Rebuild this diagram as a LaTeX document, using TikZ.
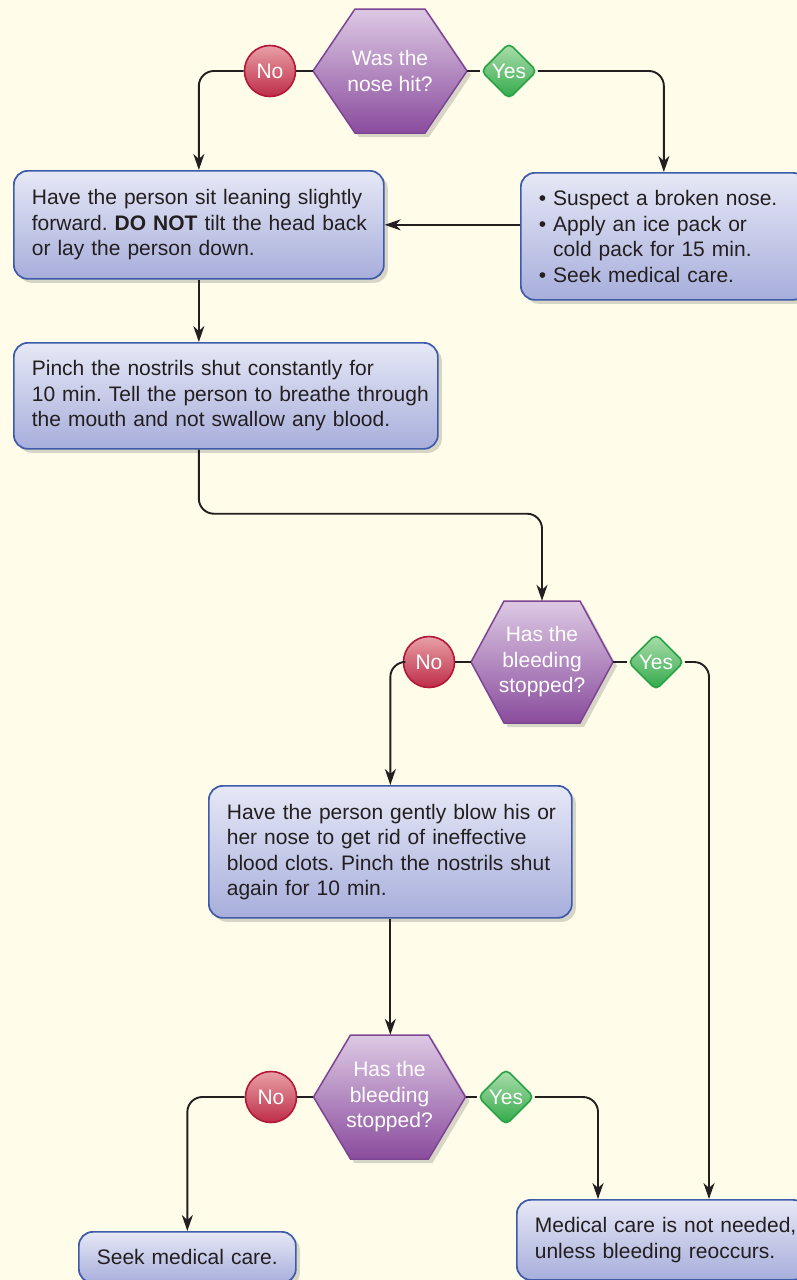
\documentclass[tikz,border=0pt]{standalone}
\usepackage{fontspec}
\setmainfont{Liberation Sans}
\usetikzlibrary{shapes.geometric,arrows.meta,shadows,calc}
\definecolor{bg}{HTML}{FFFCE9}
\definecolor{ink}{HTML}{231F20}
\definecolor{boxT}{HTML}{E6E8F6}
\definecolor{boxB}{HTML}{A7AEDB}
\definecolor{boxD}{HTML}{3D5BA9}
\definecolor{hexT}{HTML}{DDC9E4}
\definecolor{hexB}{HTML}{8A4C9D}
\definecolor{hexD}{HTML}{7E4494}
\definecolor{noT}{HTML}{E8A0A6}
\definecolor{noB}{HTML}{BE2C48}
\definecolor{noD}{HTML}{B3173A}
\definecolor{yesT}{HTML}{AEDFAE}
\definecolor{yesB}{HTML}{30A848}
\definecolor{yesD}{HTML}{26A444}
\frenchspacing
\newcommand\hexagon[5]{%
  \shade[hexfill] ({#1-#3},#2) -- ({#1-#5},{#2-#4}) -- ({#1+#5},{#2-#4})
    -- ({#1+#3},#2) -- ({#1+#5},{#2+#4}) -- ({#1-#5},{#2+#4}) -- cycle;}
\begin{document}
\begin{tikzpicture}[x=1pt,y=-1pt,
  txt/.style={font=\fontsize{21}{25.5}\selectfont\frenchspacing},
  shad/.style={drop shadow={shadow xshift=4pt,shadow yshift=-4pt,opacity=0.22,fill=black!70}},
  box/.style={txt,text=ink,rounded corners=14pt,draw=boxD,line width=1.7pt,
    top color=boxT,bottom color=boxB,shad,align=left,anchor=north west,
    inner xsep=18pt,inner ysep=0pt},
  hexfill/.style={top color=hexT,bottom color=hexB,draw=hexD,line width=1.5pt,shad},
  hextext/.style={txt,text=white,align=center,inner sep=0pt},
  nonode/.style={circle,txt,text=white,minimum size=51pt,inner sep=0pt,
    top color=noT,bottom color=noB,draw=noD,line width=1.6pt},
  yesnode/.style={diamond,aspect=1,rounded corners=5pt,txt,text=white,minimum size=56pt,
    inner sep=0pt,top color=yesT,bottom color=yesB,draw=yesD,line width=1.6pt},
  conn/.style={draw=ink,line width=1.9pt,rounded corners=15pt},
  arr/.style={conn,-{Stealth[length=16pt,width=11pt,inset=5pt]}}]
\useasboundingbox (0,0) rectangle (797,1280);
\clip (0,0) rectangle (797,1280);
\fill[bg] (0,0) rectangle (797,1280);

% row 1
\hexagon{390}{71}{77}{62}{35}
\node[hextext,minimum width=154pt,minimum height=124pt] (q1) at (390,71) {Was the\\nose hit?};
\node[nonode] (no1) at (270,71) {No};
\node[yesnode] (yes1) at (509,71) {Yes};

% boxes
\node[box,text width=334pt,minimum height=108pt] (box1) at (13,170)
  {\mbox{Have the person sit leaning slightly}\\\mbox{forward. \textbf{DO NOT} tilt the head back}\\\mbox{or lay the person down.}};
\node[box,text width=250pt,minimum height=127pt] (box2) at (520,172)
  {\mbox{• Suspect a broken nose.}\\\mbox{• Apply an ice pack or}\\\mbox{\phantom{• }cold pack for 15 min.}\\\mbox{• Seek medical care.}};
\node[box,text width=388pt,minimum height=106pt] (box3) at (13,342)
  {\mbox{Pinch the nostrils shut constantly for}\\\mbox{10 min. Tell the person to breathe through}\\\mbox{the mouth and not swallow any blood.}};

% row 2
\hexagon{542}{662}{71}{61}{38}
\node[hextext,minimum width=142pt,minimum height=122pt] (q2) at (542,662) {Has the\\bleeding\\stopped?};
\node[nonode] (no2) at (429,662) {No};
\node[yesnode] (yes2) at (656,662) {Yes};

\node[box,text width=327pt,minimum height=132pt] (box4) at (208,785)
  {\mbox{Have the person gently blow his or}\\\mbox{her nose to get rid of ineffective}\\\mbox{blood clots. Pinch the nostrils shut}\\\mbox{again for 10 min.}};

% row 3
\hexagon{389.5}{1097}{76}{62}{39}
\node[hextext,minimum width=152pt,minimum height=124pt] (q3) at (389.5,1097) {Has the\\bleeding\\stopped?};
\node[nonode] (no3) at (271,1097) {No};
\node[yesnode] (yes3) at (506,1097) {Yes};

\node[box,text width=181pt,minimum height=51pt] (box5) at (78,1231) {\mbox{Seek medical care.}};
\node[box,text width=254pt,minimum height=80pt] (box6) at (516,1199)
  {\mbox{Medical care is not needed,}\\\mbox{unless bleeding reoccurs.}};

% connectors
\draw[conn] (no1.east) -- (q1.west);
\draw[conn] (q1.east) -- (yes1.west);
\draw[arr] (no1.west) -| (box1.north);
\draw[arr] (yes1.east) -| (box2.north);
\draw[arr] (box2.west |- box1.east) -- (box1.east);
\draw[arr] (box1.south) -- (box1.south |- box3.north);
\draw[arr] (box1.south |- box3.south) -- ++(0,64) -| (q2.north);

\draw[conn] (no2.east) -- (q2.west);
\draw[conn] (q2.east) -- (yes2.west);
\draw[arr] (no2.west) -| (box4.north);
\draw[arr] (yes2.east) -| ($(box6.north west)+(193,0)$);
\draw[arr] (box4.south) -- (box4.south |- q3.north);

\draw[conn] (no3.east) -- (q3.west);
\draw[conn] (q3.east) -- (yes3.west);
\draw[arr] (no3.west) -| (box5.north);
\draw[arr] (yes3.east) -| ($(box6.north west)+(82,0)$);
\end{tikzpicture}
\end{document}
